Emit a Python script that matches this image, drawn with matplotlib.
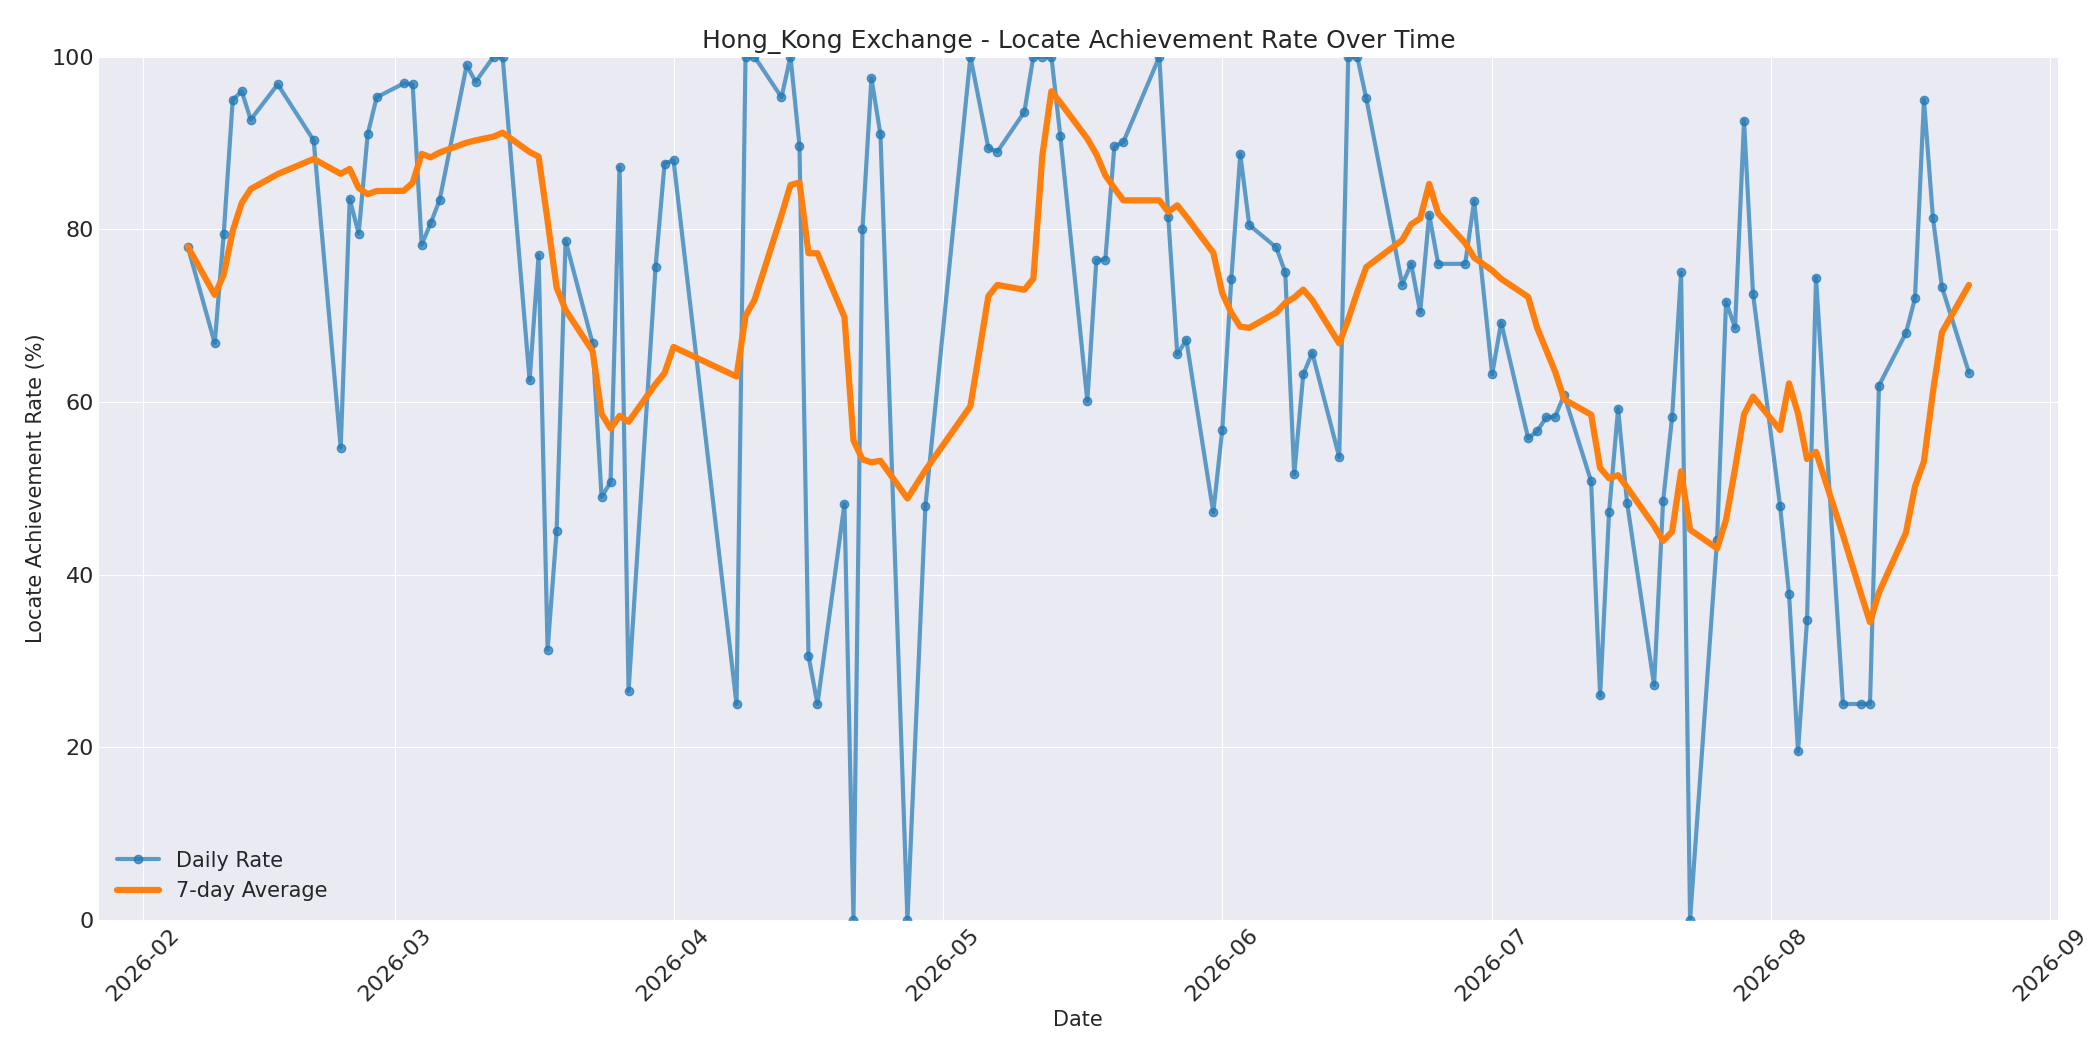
import matplotlib
matplotlib.use("Agg")
import matplotlib.pyplot as plt
import matplotlib.dates as mdates
import pandas as pd

dates = ["2026-02-06","2026-02-09","2026-02-10","2026-02-11","2026-02-12","2026-02-13","2026-02-16","2026-02-20",
"2026-02-23","2026-02-24","2026-02-25","2026-02-26","2026-02-27","2026-03-02","2026-03-03","2026-03-04","2026-03-05",
"2026-03-06","2026-03-09","2026-03-10","2026-03-12","2026-03-13","2026-03-16","2026-03-17","2026-03-18","2026-03-19",
"2026-03-20","2026-03-23","2026-03-24","2026-03-25","2026-03-26","2026-03-27","2026-03-30","2026-03-31","2026-04-01",
"2026-04-08","2026-04-09","2026-04-10","2026-04-13","2026-04-14","2026-04-15","2026-04-16","2026-04-17","2026-04-20",
"2026-04-21","2026-04-22","2026-04-23","2026-04-24","2026-04-27","2026-04-29","2026-05-04","2026-05-06","2026-05-07",
"2026-05-10","2026-05-11","2026-05-12","2026-05-13","2026-05-14","2026-05-17","2026-05-18","2026-05-19","2026-05-20",
"2026-05-21","2026-05-25","2026-05-26","2026-05-27","2026-05-28","2026-05-31","2026-06-01","2026-06-02","2026-06-03",
"2026-06-04","2026-06-07","2026-06-08","2026-06-09","2026-06-10","2026-06-11","2026-06-14","2026-06-15","2026-06-16",
"2026-06-17","2026-06-21","2026-06-22","2026-06-23","2026-06-24","2026-06-25","2026-06-28","2026-06-29","2026-07-01",
"2026-07-02","2026-07-05","2026-07-06","2026-07-07","2026-07-08","2026-07-09","2026-07-12","2026-07-13","2026-07-14",
"2026-07-15","2026-07-16","2026-07-19","2026-07-20","2026-07-21","2026-07-22","2026-07-23","2026-07-26","2026-07-27",
"2026-07-28","2026-07-29","2026-07-30","2026-08-02","2026-08-03","2026-08-04","2026-08-05","2026-08-06","2026-08-09",
"2026-08-11","2026-08-12","2026-08-13","2026-08-16","2026-08-17","2026-08-18","2026-08-19","2026-08-20","2026-08-23"]
rates = [78,66.8,79.5,95,96,92.7,96.8,90.3,
54.7,83.5,79.5,91,95.3,96.9,96.8,78.2,80.7,
83.4,99,97.1,100,100,62.5,77,31.3,45,
78.7,66.8,49,50.7,87.2,26.5,75.6,87.6,88,
25,100,100,95.3,100,89.7,30.6,25,48.2,
0,80,97.5,91,0,48,100,89.4,89,
93.6,100,100,100,90.8,60.1,76.4,76.5,89.6,
90.1,100,81.4,65.5,67.2,47.2,56.8,74.2,88.7,
80.5,77.9,75,51.6,63.2,65.7,53.6,100,100,
95.2,73.6,76,70.4,81.7,76,76,83.3,63.2,
69.2,55.8,56.6,58.2,58.3,60.8,50.8,26,47.3,
59.2,48.3,27.2,48.5,58.2,75,0,44,71.6,
68.6,92.6,72.5,48,37.8,19.5,34.7,74.4,25,
25,25,61.9,68,72,95,81.3,73.3,63.4]

s = pd.Series(rates, index=pd.to_datetime(dates))
avg = s.rolling(7, min_periods=1).mean()

plt.style.use("seaborn-v0_8-darkgrid")
plt.rcParams["font.family"] = ["DejaVu Sans"]
fig, ax = plt.subplots(figsize=(21, 10.5), dpi=100)
ax.plot(s.index, s.values, marker="o", markersize=6, linewidth=3, alpha=0.7, color="#1f77b4", label="Daily Rate")
ax.plot(avg.index, avg.values, linewidth=4.5, color="#ff7f0e", label="7-day Average")
ax.set_ylim(0, 100)
ax.xaxis.set_major_locator(mdates.MonthLocator())
ax.xaxis.set_major_formatter(mdates.DateFormatter("%Y-%m"))
plt.setp(ax.get_xticklabels(), rotation=45, fontsize=16)
plt.setp(ax.get_yticklabels(), fontsize=16)
ax.set_title("Hong_Kong Exchange - Locate Achievement Rate Over Time", fontsize=18)
ax.set_xlabel("Date", fontsize=15)
ax.set_ylabel("Locate Achievement Rate (%)", fontsize=15)
ax.legend(loc="lower left", fontsize=15)
fig.subplots_adjust(left=0.047, right=0.98, top=0.946, bottom=0.124)
fig.savefig("out.png")
